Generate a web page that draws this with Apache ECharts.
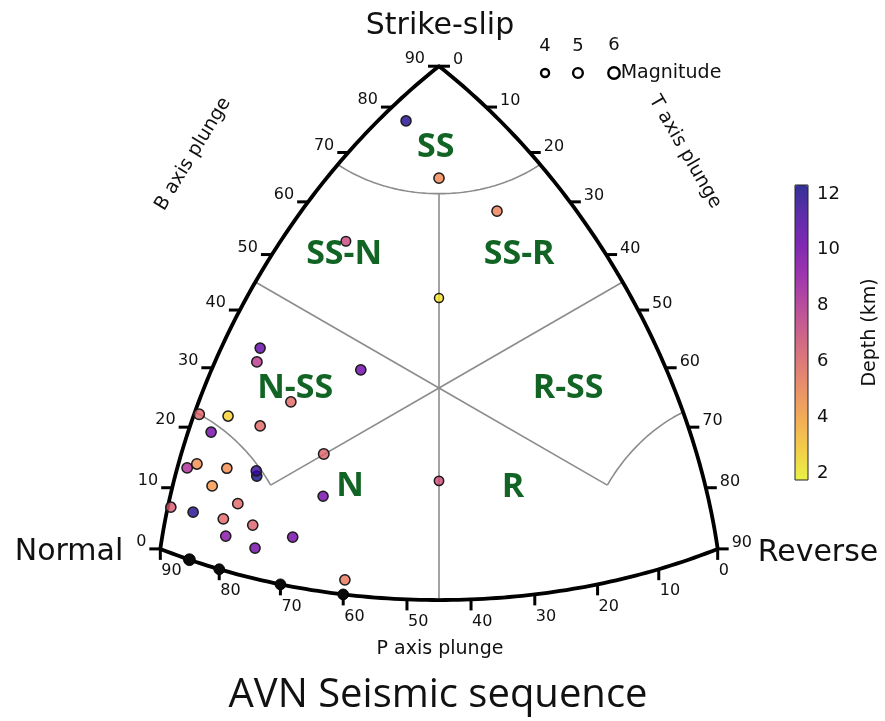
<!DOCTYPE html>
<html>
<head>
<meta charset="utf-8">
<script src="https://cdn.jsdelivr.net/npm/echarts@6/dist/echarts.min.js"></script>
<style>
  html, body { margin: 0; padding: 0; background: #ffffff; }
  #chart { width: 885px; height: 721px; }
</style>
</head>
<body>
<div id="chart"></div>
<script>
// Focal mechanisms of the sequence: plunges (deg) of the T, B and P axes,
// hypocentral depth (km) and magnitude of each event.
const tPlunge = [3.3, 13.9, 24.2, 9.1, 27.0, 6.0, 6.5, 22.6, 14.4, 0.8, 5.5, 11.1, 3.7, 22.5, 1.6, 3.0,
                 8.0, 13.1, 12.8, 6.4, 24.4, 0.5, 4.3, 11.2, 9.4, 14.3, 10.3, 21.0, 15.3, 30.1, 41.6];
const bPlunge = [79.1, 70.2, 63.3, 56.9, 50.0, 36.0, 33.8, 37.2, 29.6, 22.5, 24.1, 24.4, 20.7, 22.6, 13.9, 15.1,
                 16.2, 16.5, 17.3, 12.7, 15.8, 7.0, 7.6, 11.3, 8.2, 8.6, 5.6, 8.2, 5.0, 2.5, 20.0];
const pPlunge = [10.4, 13.9, 10.6, 31.5, 27.0, 53.3, 55.4, 44.3, 56.5, 67.5, 65.2, 62.9, 69.0, 57.1, 76.0, 74.6,
                 71.8, 68.6, 68.3, 75.8, 60.4, 82.9, 81.3, 74.0, 77.5, 73.2, 78.2, 67.3, 73.9, 59.7, 41.6];
const depthKm = [12.0, 5.0, 5.2, 7.2, 2.3, 10.5, 7.8, 10.2, 6.0, 6.2, 2.8, 6.0, 10.0, 6.2, 8.3, 4.8,
                 4.8, 12.2, 11.5, 4.5, 10.0, 6.5, 12.0, 6.0, 6.0, 6.3, 9.5, 10.0, 10.0, 5.5, 7.0];
const magnitude = [5.2, 5.3, 5.3, 4.9, 4.6, 5.2, 5.4, 5.3, 5.3, 5.5, 5.3, 5.3, 5.3, 5.5, 5.4, 5.4,
                   5.3, 5.3, 5.3, 5.4, 5.2, 5.3, 5.3, 5.4, 5.4, 5.3, 5.3, 5.3, 5.3, 5.3, 4.8];

// Events with a horizontal B axis, sitting on the P-T rim of the diagram
const rimPPlunge = [85, 80, 70, 60];
const rimMagnitude = [6.2, 5.6, 5.6, 5.6];

const plungeTicks = [0, 10, 20, 30, 40, 50, 60, 70, 80, 90];
const depthTicks = [2, 4, 6, 8, 10, 12];
const depthRange = [1.75, 12.32];
const legendMagnitudes = [4, 5, 6];
const classNames = ['SS', 'SS-N', 'SS-R', 'N-SS', 'R-SS', 'N', 'R'];
// where each class name sits, in diagram units
const classAnchors = [[-0.009, 0.689], [-0.271, 0.383], [0.229, 0.383], [-0.411, 0.0],
                      [0.369, 0.0], [-0.254, -0.28], [0.211, -0.283]];
const CLASS_LIMIT = 67.5;   // plunge bounding the pure N, SS and R classes

const D2R = Math.PI / 180;

// Kaverina et al. (1996) projection of the (T, B, P) direction sines
function projectZ(zt, zb, zp) {
  const n0 = Math.hypot(zt, zb, zp);
  zt /= n0; zb /= n0; zp /= n0;
  const c = Math.min(1, (zt + zb + zp) / Math.sqrt(3));
  const L = 2 * Math.sin(0.5 * Math.acos(c));
  const N = Math.sqrt(2 * ((zb - zp) ** 2 + (zb - zt) ** 2 + (zt - zp) ** 2));
  if (N < 1e-12) return [0, 0];
  return [Math.sqrt(3) * (L / N) * (zt - zp), (L / N) * (2 * zb - zp - zt)];
}
function project(t, b, p) {
  return projectZ(Math.sin(t * D2R), Math.sin(b * D2R), Math.sin(p * D2R));
}
const magSize = m => 1.7 * m + 1.2;

// --- diagram outline ---
const frame = [];
for (let b = 0; b <= 90; b++) frame.push(project(0, b, 90 - b));     // left edge, Normal -> Strike-slip
for (let t = 0; t <= 90; t++) frame.push(project(t, 90 - t, 0));     // right edge, Strike-slip -> Reverse
for (let p = 0; p <= 90; p++) frame.push(project(90 - p, 0, p));     // bottom edge, Reverse -> Normal

// --- class boundaries ---
const zLim = Math.sin(CLASS_LIMIT * D2R);
const rLim = Math.sqrt(1 - zLim * zLim);
const ssArc = [], nArc = [], rArc = [], tpLine = [];
for (let a = 0; a <= 90; a += 1) ssArc.push(projectZ(rLim * Math.sin(a * D2R), zLim, rLim * Math.cos(a * D2R)));
for (let a = 0; a <= 45; a += 1) nArc.push(projectZ(rLim * Math.sin(a * D2R), rLim * Math.cos(a * D2R), zLim));
for (let a = 0; a <= 45; a += 1) rArc.push(projectZ(zLim, rLim * Math.cos(a * D2R), rLim * Math.sin(a * D2R)));
for (let b = CLASS_LIMIT; b >= 0; b -= 0.5) {
  const z = Math.sqrt((1 - Math.sin(b * D2R) ** 2) / 2);
  tpLine.push(projectZ(z, Math.sin(b * D2R), z));
}
const centre = [0, 0];
const bpUpper = [centre, project(0, 45, 45)];
const btUpper = [centre, project(45, 45, 0)];
const bpLower = [centre, rArc[rArc.length - 1]];
const btLower = [centre, nArc[nArc.length - 1]];

// --- events ---
const events = tPlunge.map((t, i) => {
  const xy = project(t, bPlunge[i], pPlunge[i]);
  return [xy[0], xy[1], depthKm[i], magnitude[i]];
});
const rimEvents = rimPPlunge.map((p, i) => {
  const xy = project(90 - p, 0, p);
  return [xy[0], xy[1], rimMagnitude[i]];
});

// --- ticks ---
const leftTicks = plungeTicks.map(b => project(0, b, 90 - b).concat([b]));
const rightTicks = plungeTicks.map(t => project(t, 90 - t, 0).concat([t]));
const bottomTicks = plungeTicks.map(p => project(90 - p, 0, p).concat([p]));

const plasma = ['#0d0887', '#41049d', '#6a00a8', '#8f0da4', '#b12a90', '#cc4778',
                '#e16462', '#f2844b', '#fca636', '#fcce25', '#f0f921'];

const lineSeries = (data, style, z) => ({
  type: 'line', xAxisIndex: 0, yAxisIndex: 0, data, symbol: 'none', silent: true,
  lineStyle: style, z, animation: false
});
const tickSeries = (data, size, offset) => ({
  type: 'scatter', data, symbol: 'rect', symbolSize: size, symbolOffset: offset,
  itemStyle: { color: '#000', opacity: 1 }, silent: true, z: 6, animation: false
});
const tickLabelSeries = (data, align, vAlign, offset) => ({
  type: 'scatter', data, symbolSize: 1, itemStyle: { color: 'rgba(0,0,0,0)', opacity: 1 }, silent: true, z: 6,
  animation: false,
  label: {
    show: true, position: 'inside', align, verticalAlign: vAlign, offset,
    formatter: p => String(p.value[2]), color: '#111', fontSize: 16, fontFamily: 'DejaVu Sans'
  }
});

const legendY = 0.9;
const legendX = [0.303, 0.397, 0.5];

const option = {
  backgroundColor: '#ffffff',
  animation: false,
  grid: [
    { left: 19, top: 3, width: 840, height: 700 },
    { left: 795, top: 185, width: 13, height: 295, show: true, borderColor: '#222', borderWidth: 1,
      backgroundColor: 'rgba(0,0,0,0)', z: 10 }
  ],
  xAxis: [
    { gridIndex: 0, type: 'value', min: -1.2, max: 1.2, show: false },
    { gridIndex: 1, type: 'value', min: 0, max: 1, show: false }
  ],
  yAxis: [
    { gridIndex: 0, type: 'value', min: -0.9, max: 1.1, show: false },
    { gridIndex: 1, type: 'value', min: depthRange[0], max: depthRange[1], position: 'right',
      axisLine: { show: false }, splitLine: { show: false },
      axisTick: { show: true, customValues: depthTicks, length: 5, lineStyle: { color: '#111', width: 1.2 } },
      axisLabel: { show: true, customValues: depthTicks, margin: 9, fontSize: 18, color: '#111',
                   fontFamily: 'DejaVu Sans' },
      name: 'Depth (km)', nameLocation: 'middle', nameRotate: 90, nameGap: 53,
      nameTextStyle: { fontSize: 19, color: '#111', fontFamily: 'DejaVu Sans' } }
  ],
  visualMap: {
    type: 'continuous', min: depthRange[0], max: depthRange[1], dimension: 2, seriesIndex: 0,
    inRange: { color: plasma.slice().reverse(), colorAlpha: 0.8 },
    calculable: false, hoverLink: false, itemWidth: 13, itemHeight: 295,
    left: 795, top: 185, padding: 0, text: null, showLabel: false
  },
  graphic: [
    { type: 'text', x: 440, y: 26, style: { text: 'Strike-slip', fill: '#111', font: '30px "DejaVu Sans"', align: 'center', verticalAlign: 'middle' } },
    { type: 'text', x: 69, y: 552, style: { text: 'Normal', fill: '#111', font: '30px "DejaVu Sans"', align: 'center', verticalAlign: 'middle' } },
    { type: 'text', x: 818, y: 553, style: { text: 'Reverse', fill: '#111', font: '30px "DejaVu Sans"', align: 'center', verticalAlign: 'middle' } },
    { type: 'text', x: 438, y: 696, style: { text: 'AVN Seismic sequence', fill: '#111', font: '40px "Open Sans"', align: 'center', verticalAlign: 'middle' } },
    { type: 'text', x: 193, y: 154, rotation: 58.7 * D2R, style: { text: 'B axis plunge', fill: '#111', font: '19px "DejaVu Sans"', align: 'center', verticalAlign: 'middle' } },
    { type: 'text', x: 685, y: 152, rotation: -60 * D2R, style: { text: 'T axis plunge', fill: '#111', font: '19px "DejaVu Sans"', align: 'center', verticalAlign: 'middle' } },
    { type: 'text', x: 440, y: 649, style: { text: 'P axis plunge', fill: '#111', font: '19px "DejaVu Sans"', align: 'center', verticalAlign: 'middle' } }
  ],
  series: [
    {
      type: 'scatter', name: 'events', data: events, z: 8,
      symbolSize: v => magSize(v[3]),
      itemStyle: { borderColor: '#1a1a1a', borderWidth: 1.5, opacity: 1 },
      silent: true
    },
    {
      type: 'scatter', name: 'rim', data: rimEvents, z: 8,
      symbolSize: v => magSize(v[2]),
      itemStyle: { color: '#0a0a0a', borderColor: '#000', borderWidth: 1, opacity: 1 }, silent: true
    },
    lineSeries(frame, { color: '#000', width: 3.8, join: 'round' }, 5),
    lineSeries(ssArc, { color: '#8c8c8c', width: 1.6 }, 2),
    lineSeries(nArc, { color: '#8c8c8c', width: 1.6 }, 2),
    lineSeries(rArc, { color: '#8c8c8c', width: 1.6 }, 2),
    lineSeries(tpLine, { color: '#8c8c8c', width: 1.6 }, 2),
    lineSeries(bpUpper, { color: '#8c8c8c', width: 1.6 }, 2),
    lineSeries(btUpper, { color: '#8c8c8c', width: 1.6 }, 2),
    lineSeries(bpLower, { color: '#8c8c8c', width: 1.6 }, 2),
    lineSeries(btLower, { color: '#8c8c8c', width: 1.6 }, 2),
    tickSeries(leftTicks, [11, 3], [-5.5, 0]),
    tickSeries(rightTicks, [11, 3], [5.5, 0]),
    tickSeries(bottomTicks, [3, 11], [0, 5.5]),
    tickLabelSeries(leftTicks, 'right', 'middle', [-14, -7]),
    tickLabelSeries(rightTicks, 'left', 'middle', [14, -6]),
    tickLabelSeries(bottomTicks, 'left', 'top', [1, 14]),
    {
      type: 'scatter', name: 'classes', z: 7, silent: true,
      data: classNames.map((n, i) => ({ name: n, value: classAnchors[i] })),
      symbolSize: 1, itemStyle: { color: 'rgba(0,0,0,0)', opacity: 1 },
      label: { show: true, position: 'inside', formatter: '{b}', color: '#116424', fontSize: 34,
               fontWeight: 'bold', fontFamily: 'Open Sans' }
    },
    {
      type: 'scatter', name: 'magnitude legend', z: 7, silent: true,
      data: legendMagnitudes.map((m, i) => [legendX[i], legendY, m]),
      symbolSize: v => magSize(v[2]),
      itemStyle: { color: '#ffffff', borderColor: '#000', borderWidth: 2.4, opacity: 1 },
      label: { show: true, position: 'top', distance: 12, formatter: p => String(p.value[2]),
               fontSize: 18, color: '#111', fontFamily: 'DejaVu Sans' }
    },
    {
      type: 'scatter', name: 'magnitude title', z: 7, silent: true,
      data: [[legendX[2], legendY, legendMagnitudes[2]]],
      symbolSize: v => magSize(v[2]), itemStyle: { color: 'rgba(0,0,0,0)', opacity: 1 },
      label: { show: true, position: 'right', distance: 1, formatter: 'Magnitude',
               fontSize: 19, color: '#111', fontFamily: 'DejaVu Sans' }
    }
  ]
};

const chart = echarts.init(document.getElementById('chart'), null, { renderer: 'canvas' });
chart.setOption(option);
</script>
</body>
</html>
